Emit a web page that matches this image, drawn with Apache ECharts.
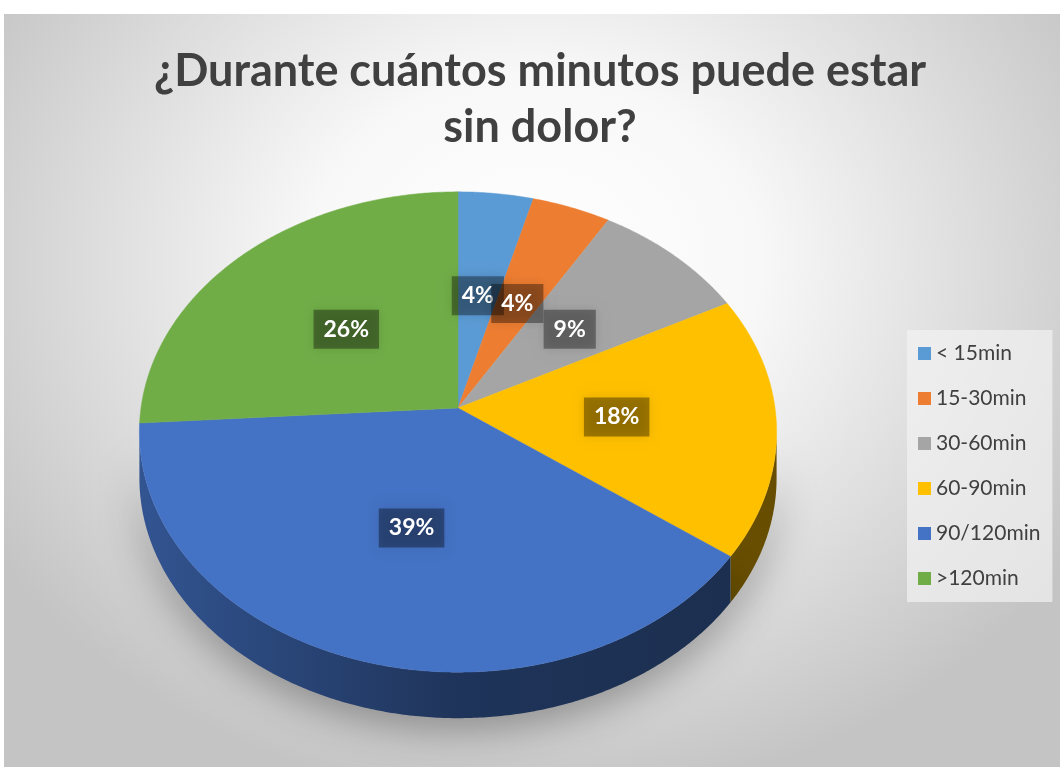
<!DOCTYPE html>
<html><head><meta charset="utf-8">
<script src="https://cdn.jsdelivr.net/npm/echarts@6/dist/echarts.min.js"></script>
<style>
html,body{margin:0;padding:0;background:#fff;width:1060px;height:767px;overflow:hidden;}
#c{position:absolute;left:4px;top:14px;width:1056px;height:753px;
background:radial-gradient(ellipse 640px 540px at 530px 250px, #ffffff 0%, #f8f8f8 35%, #c4c4c4 100%);}
</style></head><body><div id="c"></div>
<script>
const categories = ['< 15min', '15-30min', '30-60min', '60-90min', '90/120min', '>120min'];
const values = [4.2, 4.4, 8.8, 17.6, 39.0, 26.0];
const colors = ['#5b9bd5', '#ed7d31', '#a5a5a5', '#ffc000', '#4472c4', '#70ad47'];
const titleText = '¿Durante cuántos minutos puede estar\nsin dolor?';

// layout of the projected 3D disc (chart pixels)
const CX = 454, CY = 394, S = 317, A = 0.75, K = 0.1, DEPTH = 46;
const total = values.reduce((s, v) => s + v, 0);
const starts = [];
values.reduce((acc, v, i) => { starts[i] = acc; return acc + v; }, 0);

function proj(phi, f) {
  const X = f * Math.sin(phi), Y = f * Math.cos(phi);
  const d = 1 + K * Y;
  return [CX + S * X / d, CY - S * A * Y / d];
}
function shade(hex, f) {
  const n = parseInt(hex.slice(1), 16);
  const r = Math.round(((n >> 16) & 255) * f), g = Math.round(((n >> 8) & 255) * f), b = Math.round((n & 255) * f);
  return 'rgb(' + r + ',' + g + ',' + b + ')';
}
function arc(a0, a1) {
  const pts = [];
  const n = Math.max(2, Math.ceil((a1 - a0) / (Math.PI / 360)));
  for (let i = 0; i <= n; i++) pts.push(proj(a0 + (a1 - a0) * i / n, 1));
  return pts;
}
const visLo = Math.acos(-K), visHi = 2 * Math.PI - Math.acos(-K);

function makeRender(color) {
  return function (params, api) {
    const start = api.value(0), val = api.value(1);
    const a0 = start / total * 2 * Math.PI, a1 = (start + val) / total * 2 * Math.PI;
    const children = [];
    const lo = Math.max(a0, visLo), hi = Math.min(a1, visHi);
    if (hi > lo) {
      const top = arc(lo, hi);
      const bottom = top.map(p => [p[0], p[1] + DEPTH]).reverse();
      children.push({
        type: 'polygon', z2: 1,
        shape: { points: top.concat(bottom) },
        style: {
          fill: { type: 'linear', x: CX - S, y: 0, x2: CX + S, y2: 0, global: true,
            colorStops: [{ offset: 0, color: shade(color, 0.74) }, { offset: 0.5, color: shade(color, 0.46) }, { offset: 1, color: shade(color, 0.40) }] },
          shadowBlur: 40, shadowColor: 'rgba(0,0,0,0.36)', shadowOffsetY: 10
        }
      });
    }
    children.push({
      type: 'polygon', z2: 5,
      shape: { points: [proj(0, 0)].concat(arc(a0, a1)) },
      style: { fill: color, stroke: color, lineWidth: 0.5 }
    });
    const lp = proj((a0 + a1) / 2, 0.5);
    children.push({
      type: 'text', z2: 10, x: lp[0], y: lp[1],
      style: {
        text: Math.round(val / total * 100) + '%',
        fill: '#ffffff', font: 'bold 23px Lato', align: 'center', verticalAlign: 'middle',
        backgroundColor: 'rgba(0,0,0,0.36)', padding: [8, 10],
        shadowBlur: 10, shadowColor: 'rgba(0,0,0,0.3)'
      }
    });
    return { type: 'group', children: children };
  };
}

const chart = echarts.init(document.getElementById('c'), null, { renderer: 'canvas' });
chart.setOption({
  backgroundColor: 'transparent',
  animation: false,
  title: {
    text: titleText, left: 536, top: 29, padding: 0, textAlign: 'center',
    textStyle: { fontFamily: 'Lato', fontWeight: 'bold', fontSize: 45, lineHeight: 56, color: '#404040' }
  },
  legend: {
    orient: 'vertical', left: 903, top: 316,
    data: categories, icon: 'rect', itemWidth: 13, itemHeight: 13, itemGap: 24,
    padding: [13, 12, 13, 11], backgroundColor: 'rgba(242,242,242,0.7)',
    textStyle: { fontFamily: 'Lato', fontSize: 21, color: '#404040' }
  },
  series: categories.map((name, i) => ({
    type: 'custom', name: name, coordinateSystem: 'none',
    itemStyle: { color: colors[i] },
    renderItem: makeRender(colors[i]),
    data: [[starts[i], values[i]]]
  }))
});
</script></body></html>
